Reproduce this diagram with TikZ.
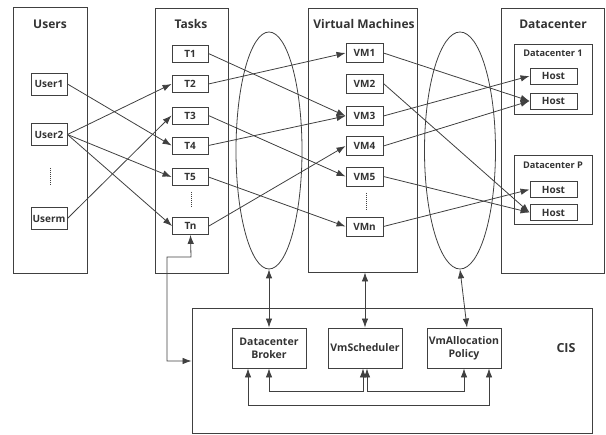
\documentclass[tikz,border=0pt]{standalone}
\usepackage{fontspec}
\setmainfont{Open Sans}
\usetikzlibrary{arrows.meta,shapes.geometric}
\definecolor{ln}{HTML}{404040}
\definecolor{tx}{HTML}{333333}
\tikzset{
  every node/.style={text=tx, font=\bfseries\fontsize{10}{11}\selectfont, inner sep=0pt},
  box/.style={draw=ln, line width=0.9pt, rectangle},
  item/.style={box, minimum width=36pt, minimum height=18pt},
  hostbox/.style={box, minimum width=47pt, minimum height=16pt},
  cisbox/.style={box, minimum width=74pt, minimum height=40pt, align=center, font=\bfseries\fontsize{10.5}{13}\selectfont},
  head/.style={font=\bfseries\fontsize{12}{13}\selectfont},
  sub/.style={font=\bfseries\fontsize{9.2}{10}\selectfont},
  conn/.style={draw=ln, line width=0.8pt, -{Latex[length=9pt,width=6.5pt]}},
  biconn/.style={draw=ln, line width=0.8pt, {Latex[length=9pt,width=6.5pt]}-{Latex[length=9pt,width=6.5pt]}},
  vdots/.style={draw=ln, line width=0.8pt, dash pattern=on 1pt off 1pt},
}
\begin{document}
\begin{tikzpicture}[x=1pt,y=-1pt]
\useasboundingbox (0,0) rectangle (606,435);
% big columns
\node[box, minimum width=74pt, minimum height=266pt] (usersbox) at (50,140) {};
\node[box, minimum width=73pt, minimum height=265pt] (tasksbox) at (191.5,140.5) {};
\node[box, minimum width=109pt, minimum height=264pt] (vmbox) at (362.5,140) {};
\node[box, minimum width=103pt, minimum height=265pt] (dcbox) at (552.5,140.5) {};
\node[head] (hu) at (50,24) {Users};
\node[head] (ht) at (191,24) {Tasks};
\node[head] (hv) at (364,24) {Virtual Machines};
\node[head] (hd) at (553,24) {Datacenter};
% ellipses
\node[draw=ln, line width=0.8pt, ellipse, minimum width=66pt, minimum height=237pt] (e1) at (269,150.5) {};
\node[draw=ln, line width=0.8pt, ellipse, minimum width=71pt, minimum height=237pt] (e2) at (460,150.5) {};
% users
\node[item, minimum height=22pt] (u1) at (49,84) {User1};
\node[item, minimum height=22pt] (u2) at (49,134.5) {User2};
\node[item, minimum height=22pt] (um) at (49,218.5) {Userm};
\draw[vdots] (50,168) -- (50,185);
% tasks
\node[item, minimum height=17pt] (t1) at (190,53.5) {T1};
\node[item, minimum height=17pt] (t2) at (190,84) {T2};
\node[item, minimum height=17pt] (t3) at (190,115.5) {T3};
\node[item, minimum height=17pt] (t4) at (190,145.5) {T4};
\node[item, minimum height=17pt] (t5) at (190,177) {T5};
\node[item, minimum height=17pt] (tn) at (190.5,226) {Tn};
\draw[vdots] (191,192) -- (191,208);
% VMs
\node[item, minimum width=37pt, minimum height=19pt] (v1) at (364.5,53) {VM1};
\node[item, minimum width=37pt, minimum height=19pt] (v2) at (364.5,83.5) {VM2};
\node[item, minimum width=37pt, minimum height=19pt] (v3) at (364.5,116) {VM3};
\node[item, minimum width=37pt, minimum height=19pt] (v4) at (364.5,146) {VM4};
\node[item, minimum width=37pt, minimum height=19pt] (v5) at (364.5,176.5) {VM5};
\node[item, minimum width=37pt, minimum height=19pt] (vn) at (364.5,226.5) {VMn};
\draw[vdots] (366,193) -- (366,210);
% datacenters
\node[box, minimum width=78pt, minimum height=70pt] (dc1) at (553,79) {};
\node[sub] (dc1t) at (553,53) {Datacenter 1};
\node[box, minimum width=78pt, minimum height=69pt] (dcp) at (553,189.5) {};
\node[sub] (dcpt) at (553,165) {Datacenter P};
\node[hostbox] (h1) at (553.5,76) {Host};
\node[hostbox] (h2) at (553.5,101) {Host};
\node[hostbox] (h3) at (553.5,189.5) {Host};
\node[hostbox] (h4) at (553.5,212.5) {Host};
% users -> tasks
\draw[conn] (u1.east) -- (t4.west);
\draw[conn] (u2.east) -- (t2.west);
\draw[conn] (u2.east) -- (t5.west);
\draw[conn] (u2.east) -- (tn.west);
\draw[conn] (um.east) -- (t3.west);
% tasks -> vms
\draw[conn] (t1.east) -- (v3.west);
\draw[conn] (t2.east) -- (v1.west);
\draw[conn] (t3.east) -- (v5.west);
\draw[conn] (t4.east) -- (v3.west);
\draw[conn] (t5.east) -- (vn.west);
\draw[conn] (tn.east) -- (v4.west);
% vms -> hosts
\draw[conn] (v1.east) -- (h2.west);
\draw[conn] (v2.east) -- (h4.west);
\draw[conn] (v3.east) -- (h1.west);
\draw[conn] (v4.east) -- (h2.west);
\draw[conn] (v5.east) -- (h4.west);
\draw[conn] (vn.east) -- (h3.west);
% CIS
\node[box, minimum width=400pt, minimum height=125pt] (cis) at (392,370.5) {};
\node[font=\bfseries\fontsize{12.5}{13}\selectfont] (cist) at (566,348) {CIS};
\node[cisbox] (br) at (269,348) {Datacenter\\Broker};
\node[cisbox] (vs) at (365,348) {VmScheduler};
\node[cisbox] (va) at (464,348) {VmAllocation\\Policy};
\draw[biconn] (e1.south) -- (br.north);
\draw[biconn] (vmbox.south -| vs.north) -- (vs.north);
\draw[biconn] (e2.south) -- ([xshift=3pt]va.north);
\coordinate (k1) at (191,257);
\coordinate (k2) at (167,257);
\coordinate (k3) at (167,361);
\draw[biconn] (tn.south) -- (k1) -- (k2) -- (k3) -- (k3 -| cis.west);
\coordinate (b1) at (269,391);
\coordinate (b2) at (363,391);
\draw[biconn] (br.south) -- (b1) -- (b2) -- ([xshift=-2pt]vs.south);
\coordinate (b3) at (367,391);
\coordinate (b4) at (464,391);
\draw[biconn] ([xshift=2pt]vs.south) -- (b3) -- (b4) -- (va.south);
\coordinate (c1) at (248,405);
\coordinate (c2) at (489,405);
\draw[biconn] ([xshift=-21pt]br.south) -- (c1) -- (c2) -- ([xshift=25pt]va.south);
\end{tikzpicture}
\end{document}
